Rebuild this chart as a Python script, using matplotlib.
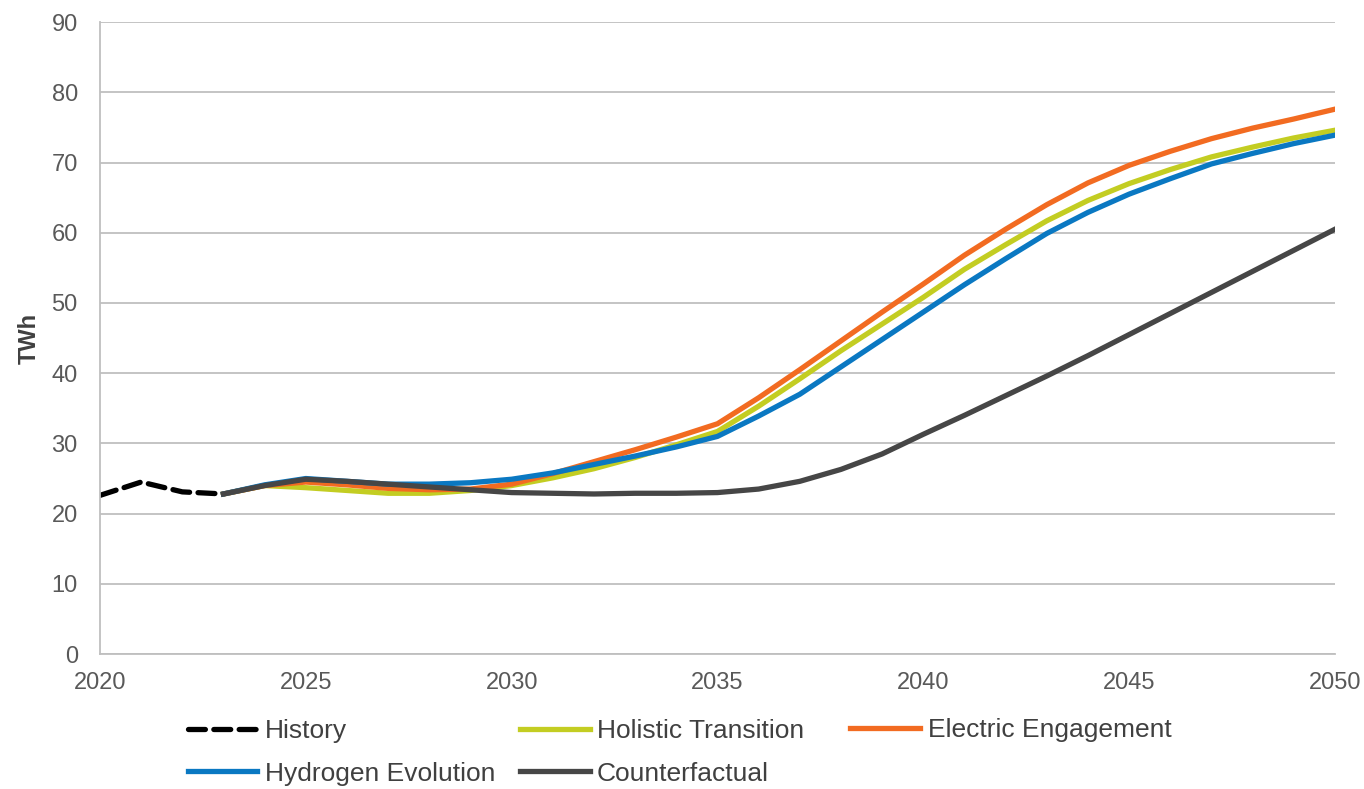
import numpy as np
import matplotlib
matplotlib.use("Agg")
import matplotlib.pyplot as plt

plt.rcParams['font.family'] = ['Liberation Sans', 'DejaVu Sans']

# history 2020-2023
hist_years = [2020, 2021, 2022, 2023]
history = [22.6, 24.5, 23.1, 22.8]

# scenarios 2023-2050
years = list(range(2023, 2051))
holistic = [22.8, 24.0, 23.7, 23.3, 22.9, 22.9, 23.3, 24.0, 25.1, 26.4, 28.0, 29.8, 31.7,
            35.3, 39.2, 43.2, 47.0, 50.8, 54.8, 58.3, 61.7, 64.6, 67.0, 69.0, 70.8, 72.2, 73.5, 74.6]
electric = [22.8, 24.0, 24.5, 24.1, 23.6, 23.4, 23.5, 24.2, 25.7, 27.4, 29.1, 30.9, 32.8,
            36.5, 40.5, 44.6, 48.7, 52.7, 56.8, 60.5, 64.0, 67.1, 69.6, 71.6, 73.4, 74.9, 76.2, 77.6]
hydrogen = [22.8, 24.1, 25.0, 24.6, 24.2, 24.2, 24.4, 24.9, 25.8, 27.0, 28.2, 29.5, 31.0,
            33.9, 37.0, 40.9, 44.8, 48.7, 52.6, 56.3, 59.9, 62.9, 65.5, 67.7, 69.8, 71.3, 72.7, 73.9]
counterfactual = [22.8, 24.0, 24.9, 24.6, 24.2, 23.8, 23.4, 23.0, 22.9, 22.8, 22.9, 22.9, 23.0,
                  23.5, 24.6, 26.3, 28.5, 31.3, 34.0, 36.8, 39.6, 42.5, 45.5, 48.5, 51.5, 54.5, 57.5, 60.5]

fs = 17
fig = plt.figure(figsize=(13.64, 7.89), dpi=100)
ax = fig.add_axes([0.0733, 0.171, 0.9054, 0.801])

lw = 3.8
h_hist, = ax.plot(hist_years, history, color='black', lw=lw, ls=(0, (3.2, 1.6)),
                  dash_capstyle='round', label='History')
h_hol, = ax.plot(years, holistic, color='#c3cd22', lw=lw, label='Holistic Transition')
h_ele, = ax.plot(years, electric, color='#f26b21', lw=lw, label='Electric Engagement')
h_hyd, = ax.plot(years, hydrogen, color='#0a78c2', lw=lw, label='Hydrogen Evolution')
h_cf, = ax.plot(years, counterfactual, color='#464646', lw=lw, label='Counterfactual')
h_cf.set_zorder(5)

ax.set_xlim(2020, 2050)
ax.set_ylim(0, 90)
ax.set_xticks(np.arange(2020, 2051, 5))
ax.set_yticks(np.arange(0, 91, 10))
ax.grid(axis='y', color='#bfbfbf', lw=1.3)
ax.set_axisbelow(True)
for s in ['top', 'right']:
    ax.spines[s].set_visible(False)
for s in ['left', 'bottom']:
    ax.spines[s].set_color('#bfbfbf')
    ax.spines[s].set_linewidth(1.3)
ax.tick_params(axis='both', length=0, labelsize=fs, colors='#595959')
ax.tick_params(axis='y', pad=16)
ax.tick_params(axis='x', pad=13)
ax.set_ylabel('TWh', fontsize=fs, fontweight='bold', color='#404040', labelpad=8)

# legend: three columns placed like the reference
lfs = 19
cols = [([h_hist, h_hyd], 0.1375, 0.0463),
        ([h_hol, h_cf], 0.381, 0.0463),
        ([h_ele], 0.6235, 0.0748)]
for hs, x, y in cols:
    leg = fig.legend(hs, [h.get_label() for h in hs], loc='center left',
                     bbox_to_anchor=(x, y), frameon=False, fontsize=lfs,
                     handlelength=2.65, handletextpad=0.27, labelspacing=0.7,
                     borderpad=0, borderaxespad=0, labelcolor='#404040')

fig.savefig('out.png', dpi=100)
